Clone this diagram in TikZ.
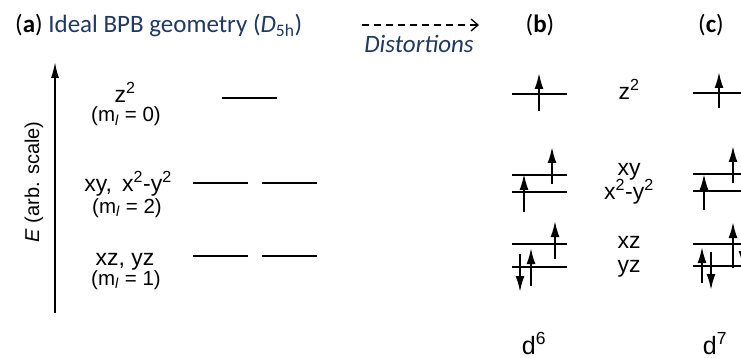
\documentclass[tikz,border=0pt]{standalone}
\usepackage{fontspec}
\setmainfont{Carlito}
\newfontfamily\arialfont{Liberation Sans}
\usetikzlibrary{arrows.meta, positioning}
\definecolor{titleblue}{RGB}{31,56,100}

\tikzset{
  degen/.style={line width=1.2pt},
  split/.style={line width=1.6pt},
  spin/.style={line width=2pt, -{Latex[length=16pt,width=9pt]}},
  orblabel/.style={anchor=base, inner sep=0pt, font=\arialfont\fontsize{23}{23}\selectfont},
  mlabel/.style={anchor=base, inner sep=0pt, font=\arialfont\fontsize{20.5}{20.5}\selectfont},
  panel/.style={anchor=base, inner sep=0pt, font=\fontsize{25}{25}\selectfont}
}

\begin{document}
\begin{tikzpicture}[x=1pt, y=-1pt]
\useasboundingbox (0,0) rectangle (741,358);
\clip (0,0) rectangle (741,358);

% titles
\node[panel, anchor=base west, text=titleblue] (titleA) at (15,33)
  {\textcolor{black}{(\textbf{a})} Ideal BPB geometry (\textit{D}\textsubscript{5h})};
\node[panel] (titleB) at (540,33) {(\textbf{b})};
\node[panel] (titleC) at (711,33) {(\textbf{c})};
\coordinate (distL) at (362,25);
\coordinate (distR) at (479,25);
\draw[line width=1.3pt, dash pattern=on 7pt off 5pt, -{Straight Barb[length=7pt,width=12pt]}] (distL) -- (distR);
\node[panel, text=titleblue] (dist) at (419,53) {\textit{Distortions}};

% energy axis
\coordinate (axisB) at (55,313);
\coordinate (axisT) at (55,62);
\draw[line width=1.6pt, -{Latex[length=16pt,width=8pt]}] (axisB) -- (axisT);
\node[rotate=90, inner sep=0pt, font=\arialfont\fontsize{20}{20}\selectfont] (elabel) at (34,182)
  {\textit{E} (arb. scale)};

% (a) ideal levels
\node[orblabel] (zA) at (125,103) {z\textsuperscript{2}};
\node[mlabel] (mzero) at (126,122) {(m\textsubscript{\textit{l}} = 0)};
\node[orblabel] (xyA) at (128,192) {xy,\, x\textsuperscript{2}-y\textsuperscript{2}};
\node[mlabel] (mtwo) at (127,213) {(m\textsubscript{\textit{l}} = 2)};
\node[orblabel] (xzA) at (125,265) {xz, yz};
\node[mlabel] (mone) at (126,285) {(m\textsubscript{\textit{l}} = 1)};

\draw[degen] (222,98) -- (277,98);
\draw[degen] (193,183) -- (248,183);
\draw[degen] (262,183) -- (317,183);
\draw[degen] (193,256) -- (248,256);
\draw[degen] (262,256) -- (317,256);

% (b) d6
\foreach \y in {94,175,192,244,267}
  \draw[split] (512,\y) -- (567,\y);
\draw[spin] (539,111) -- (539,73);
\draw[spin] (552,184) -- (552,147);
\draw[spin] (524,212) -- (524,174);
\draw[spin] (555,259) -- (555,221);
\draw[spin] (531,286) -- (531,248);
\draw[spin] (520,254) -- (520,292);

% orbital names
\node[orblabel] (zB) at (629,100) {z\textsuperscript{2}};
\node[orblabel] (xyB) at (629,176) {xy};
\node[orblabel] (xxyyB) at (629,200) {x\textsuperscript{2}-y\textsuperscript{2}};
\node[orblabel] (xzB) at (629,248) {xz};
\node[orblabel] (yzB) at (629,272) {yz};

% (c) d7
\foreach \y in {93,174,191,244,266}
  \draw[split] (693,\y) -- (760,\y);
\draw[spin] (719,108) -- (719,72);
\draw[spin] (733,183) -- (733,146);
\draw[spin] (704,210) -- (704,174);
\draw[spin] (733,268) -- (733,222);
\draw[spin] (743,229) -- (743,267);
\draw[spin] (702,283) -- (702,247);
\draw[spin] (711,252) -- (711,290);

% configurations
\node[orblabel, font=\arialfont\fontsize{25}{25}\selectfont] (dsix) at (534,354) {d\textsuperscript{6}};
\node[orblabel, font=\arialfont\fontsize{25}{25}\selectfont] (dseven) at (715,354) {d\textsuperscript{7}};
\end{tikzpicture}
\end{document}
